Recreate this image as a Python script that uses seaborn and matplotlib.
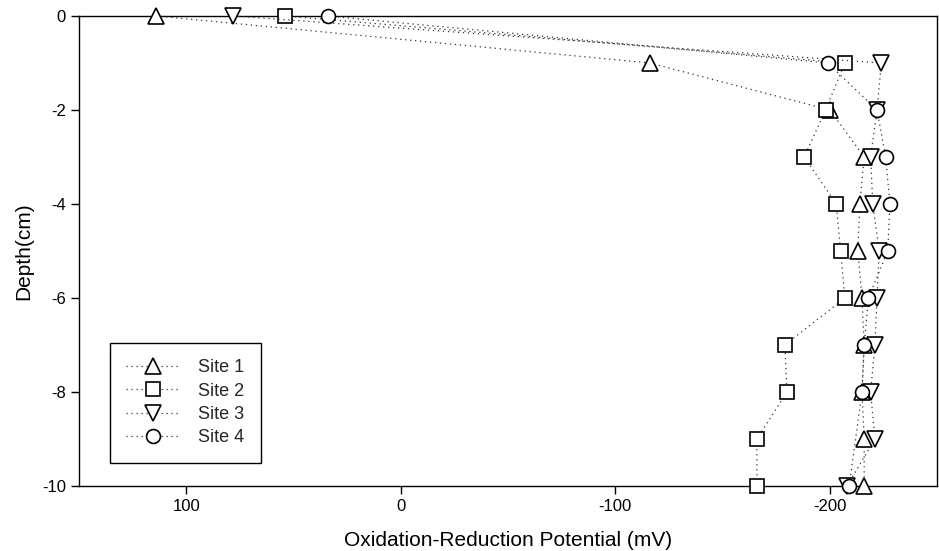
import numpy as np
import pandas as pd
import seaborn as sns
import matplotlib
matplotlib.use("Agg")
import matplotlib.pyplot as plt

sns.set_theme(style="ticks")
plt.rcParams['font.family'] = ['Liberation Sans', 'DejaVu Sans']

depth = [0, -1, -2, -3, -4, -5, -6, -7, -8, -9, -10]
site1 = [114, -116, -200, -216, -214, -213, -215, -216, -215, -216, -216]
site2 = [54, -207, -198, -188, -203, -205, -207, -179, -180, -166, -166]
site3 = [78, -224, -222, -219, -220, -223, -222, -221, -219, -221, -208]
site4_depth = [0, -1, -2, -3, -4, -5, -6, -7, -8, -10]
site4 = [34, -199, -222, -226, -228, -227, -218, -216, -215, -209]
sites = ["Site 1", "Site 2", "Site 3", "Site 4"]
markers = {"Site 1": "^", "Site 2": "s", "Site 3": "v", "Site 4": "o"}
msize = {"Site 1": 11, "Site 2": 9.5, "Site 3": 11, "Site 4": 10}

rows = []
for name, d, v in [("Site 1", depth, site1), ("Site 2", depth, site2),
                   ("Site 3", depth, site3), ("Site 4", site4_depth, site4)]:
    for di, vi in zip(d, v):
        rows.append({"Site": name, "Depth": di, "ORP": vi})
df = pd.DataFrame(rows)

fig = plt.figure(figsize=(9.39, 5.51), dpi=100)
ax = fig.add_axes([0.0841, 0.118, 0.9139, 0.853])

for i, s in enumerate(sites):
    sub = df[df["Site"] == s]
    sns.lineplot(data=sub, x="ORP", y="Depth", orient="y", sort=False,
                 estimator=None, errorbar=None, ax=ax,
                 color="#333333", linewidth=0.9, linestyle=(0, (1, 3)),
                 marker=markers[s], markersize=msize[s], markerfacecolor="white",
                 markeredgecolor="black", markeredgewidth=1.2, label=s,
                 legend=False, zorder=3 + i, clip_on=False)

ax.set_xlim(150, -250)
ax.set_ylim(-10, 0)
ax.set_xticks([100, 0, -100, -200])
ax.set_xticklabels(["100", "0", "-100", "-200"])
ax.set_yticks([0, -2, -4, -6, -8, -10])
ax.set_yticklabels(["0", "-2", "-4", "-6", "-8", "-10"])
ax.tick_params(direction="out", length=6, width=1, labelsize=12, colors="black")
for sp in ax.spines.values():
    sp.set_visible(True)
    sp.set_color("black")
    sp.set_linewidth(1.0)
ax.set_xlabel("Oxidation-Reduction Potential (mV)", fontsize=15, color="black", labelpad=12)
ax.set_ylabel("Depth(cm)", fontsize=15, color="black", labelpad=6)

handles = ax.get_lines()
leg = ax.legend(handles, sites, loc="upper left", bbox_to_anchor=(0.036, 0.304),
                borderaxespad=0, fancybox=False, frameon=True, edgecolor="black",
                fontsize=13, handlelength=3.0, handletextpad=1.0,
                labelspacing=0.35, borderpad=0.9, framealpha=1)
leg.get_frame().set_linewidth(1.0)

fig.savefig("out.png", dpi=100)
